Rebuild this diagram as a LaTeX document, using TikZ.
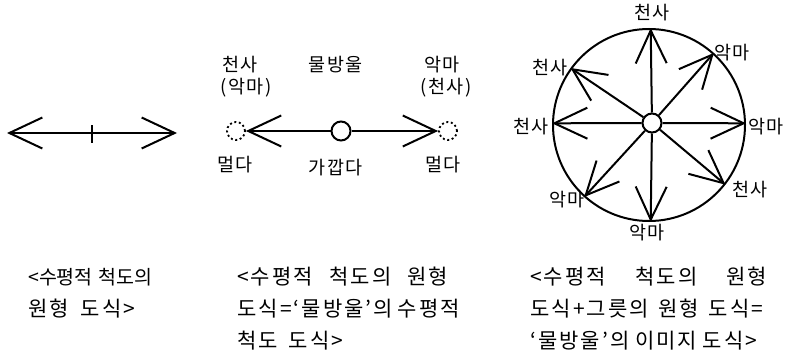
\documentclass[tikz,border=0pt]{standalone}
\usepackage{fontspec}
\setmainfont{Noto Sans CJK KR}
\newfontfamily\capwide[LetterSpace=10]{Noto Sans CJK KR}
\newfontfamily\labwide[LetterSpace=8]{Noto Sans CJK KR}
\usetikzlibrary{arrows.meta}
\begin{document}
\begin{tikzpicture}[x=1pt,y=-1pt,
  ln/.style={line width=2pt},
  barb/.style={-{Straight Barb[length=33pt,width=31pt,line width=2pt]}},
  lab/.style={font=\labwide\fontsize{18.5}{20}\selectfont, inner sep=0pt},
  captxt/.style={font=\capwide\fontsize{21}{23}\selectfont, inner sep=0pt, anchor=west},
  captight/.style={font=\fontsize{19.5}{23}\selectfont, inner sep=0pt, anchor=west},
  dropc/.style={circle, draw, line width=2pt, fill=white, minimum size=19pt, inner sep=0pt},
  farc/.style={circle, draw, line width=1.8pt, dash pattern=on 2pt off 2.6pt, minimum size=18pt, inner sep=0pt},
]
\useasboundingbox (0,0) rectangle (785,361);
% ---------- left: horizontal scale
\coordinate (L1) at (7,133);
\coordinate (L2) at (177,133);
\coordinate (Lm) at (92,133);
\coordinate (T1) at (92,125);
\coordinate (T2) at (92,143);
\draw[ln,barb] (Lm) -- (L1);
\draw[ln,barb] (Lm) -- (L2);
\draw[line width=1.6pt] (T1) -- (T2);
% ---------- middle
\node[dropc] (drop) at (341,131) {};
\node[farc] (fl) at (236,131) {};
\node[farc] (fr) at (448,131) {};
\draw[ln,barb] (drop) -- (fl);
\draw[ln,barb] (drop) -- (fr);
\node[lab] (m1) at (240,65) {천사};
\node[lab] (m2) at (246,88) {(악마)};
\node[lab] (m3) at (336,65) {물방울};
\node[lab] (m4) at (442,65) {악마};
\node[lab] (m5) at (446,88) {(천사)};
\node[lab] (m6) at (235,165) {멀다};
\node[lab] (m7) at (336,168) {가깝다};
\node[lab] (m8) at (443,165) {멀다};
% ---------- right: image schema
\node[circle, draw, line width=2pt, minimum size=192pt, inner sep=0pt] (big) at (649,125) {};
\node[dropc] (c) at (652,123) {};
\foreach \a in {89,48,144,179,1,228,322,271}{
  \draw[ln,barb] (c) -- (big.\a);
}
\node[lab] (r1) at (652,13) {천사};
\node[lab] (r2) at (732,53) {악마};
\node[lab] (r3) at (550,68) {천사};
\node[lab] (r4) at (531,127) {천사};
\node[lab] (r5) at (766,127) {악마};
\node[lab] (r6) at (750,190) {천사};
\node[lab] (r7) at (567,200) {악마};
\node[lab] (r8) at (647,233) {악마};
% ---------- captions
\node[captight] (a1) at (28,277) {\makebox[124pt][s]{<수평적 척도의}};
\node[captxt] (a2) at (28,309) {\makebox[107pt][s]{원형 도식>}};
\node[captxt] (b1) at (237,277) {\makebox[211pt][s]{<수평적 척도의 원형}};
\node[captxt] (b2) at (237,309) {\makebox[211pt][s]{도식=‘물방울’의 수평적}};
\node[captxt] (b3) at (237,341) {\makebox[106pt][s]{척도 도식>}};
\node[captxt] (c1) at (530,277) {\makebox[237pt][s]{<수평적 척도의 원형}};
\node[captxt] (c2) at (530,309) {\makebox[233pt][s]{도식+그릇의 원형 도식=}};
\node[captxt] (c3) at (530,341) {\makebox[227pt][s]{‘물방울’의 이미지 도식>}};
\end{tikzpicture}
\end{document}
